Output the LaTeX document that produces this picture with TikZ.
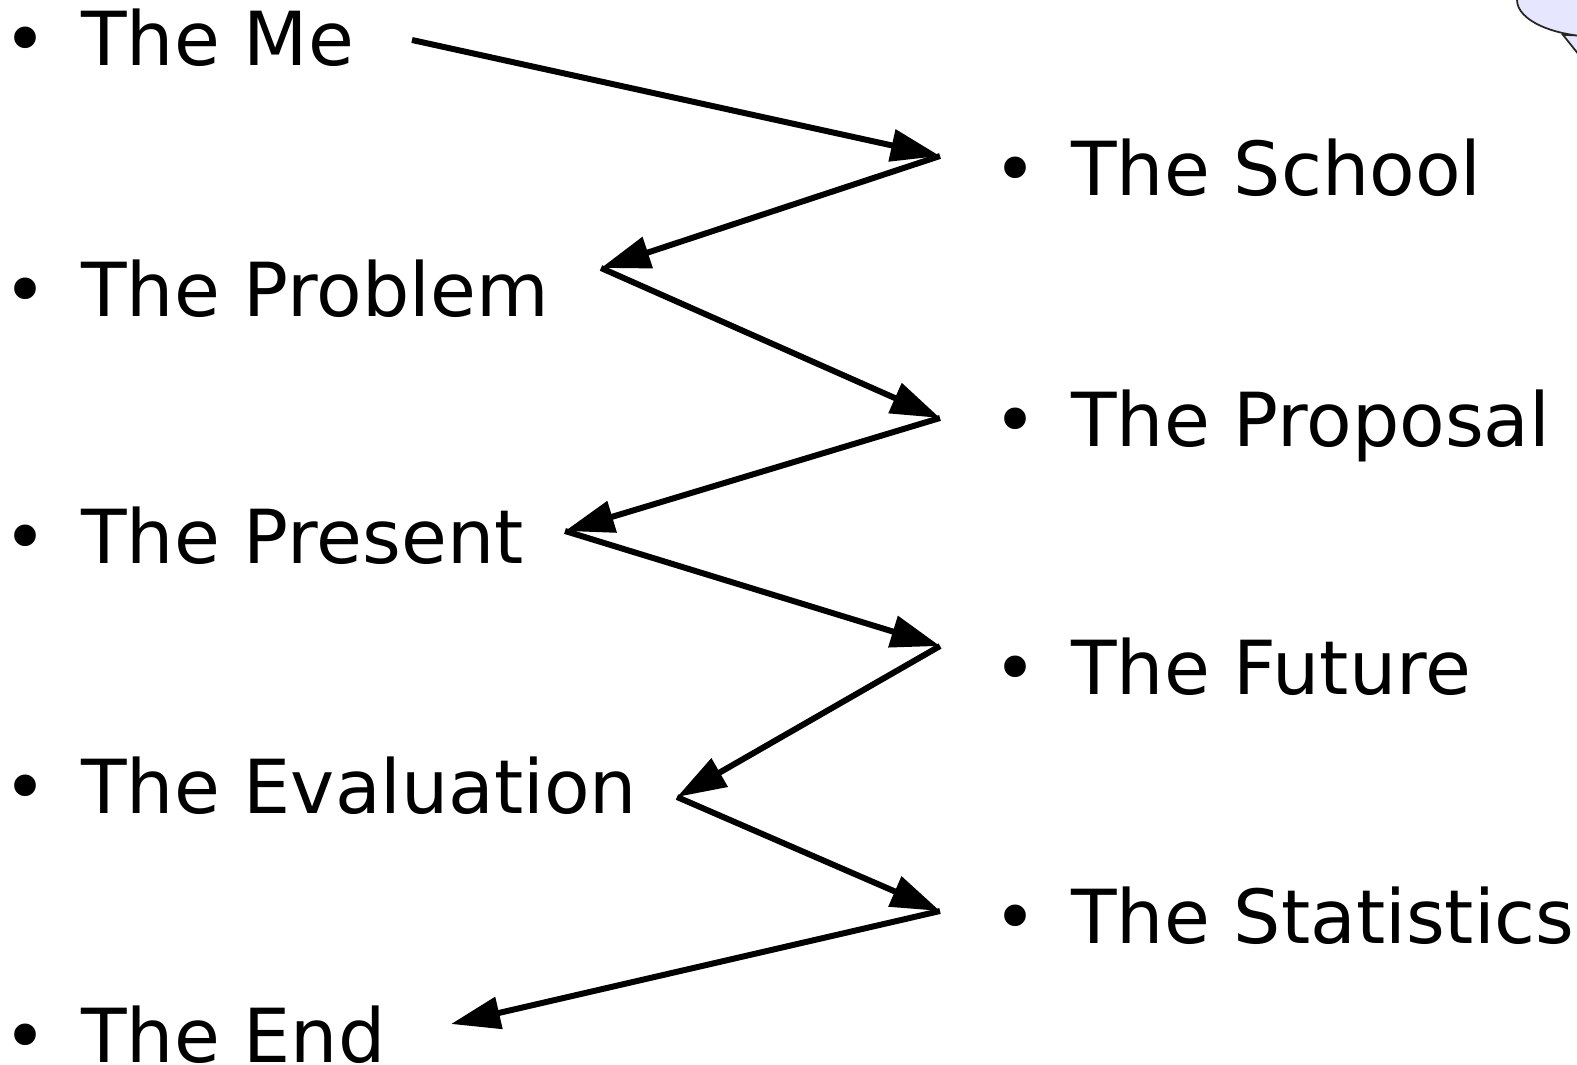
\documentclass[tikz,border=0pt]{standalone}
\usepackage{fontspec}
\setmainfont{DejaVu Sans}
\usetikzlibrary{arrows.meta}

\begin{document}
\begin{tikzpicture}[
    x=0.01cm, y=-0.01cm,
    every node/.style={font=\fontsize{21.2}{25}\selectfont, inner sep=0pt, anchor=base west},
    item/.style={},
    arrow/.style={-{Triangle[length=14pt, width=9pt]}, line width=1.7pt, line join=miter},
    bubble/.style={fill={rgb,255:red,230;green,230;blue,255}, draw=black!85, line width=0.5pt}
]
\useasboundingbox (0,0) rectangle (1577,1064);

% === BUBBLE (top right corner, mostly off the page) ===
\filldraw[bubble] (1563,35) -- (1595,75) -- (1612,36) -- cycle;
\filldraw[bubble] (1600,0) ellipse [x radius=83, y radius=37];

% === LEFT COLUMN ===
\node[item] (me)     at (3,66)     {•\hspace{9.6pt}The Me};
\node[item] (prob)   at (3,317)    {•\hspace{9.6pt}The Problem};
\node[item] (pres)   at (3,563)    {•\hspace{9.6pt}The Present};
\node[item] (eval)   at (3,813)    {•\hspace{9.6pt}The Evaluation};
\node[item] (fin)    at (3,1062)   {•\hspace{9.6pt}The End};

% === RIGHT COLUMN ===
\node[item] (school) at (993,196)  {•\hspace{9.6pt}The School};
\node[item] (prop)   at (993,446)  {•\hspace{9.6pt}The Proposal};
\node[item] (fut)    at (993,694)  {•\hspace{9.6pt}The Future};
\node[item] (stat)   at (993,943)  {•\hspace{9.6pt}The Statistics};

% === ZIGZAG POINTS ===
\coordinate (s0) at (412,40);
\coordinate (r1) at (940,156);
\coordinate (l2) at (601,268);
\coordinate (r2) at (940,418);
\coordinate (l3) at (565,531);
\coordinate (r3) at (940,646);
\coordinate (l4) at (677,797);
\coordinate (r4) at (940,911);
\coordinate (l5) at (451,1024);

% === ARROWS ===
\draw[arrow] (s0) -- (r1);
\draw[arrow] (r1) -- (l2);
\draw[arrow] (l2) -- (r2);
\draw[arrow] (r2) -- (l3);
\draw[arrow] (l3) -- (r3);
\draw[arrow] (r3) -- (l4);
\draw[arrow] (l4) -- (r4);
\draw[arrow] (r4) -- (l5);

\end{tikzpicture}
\end{document}
